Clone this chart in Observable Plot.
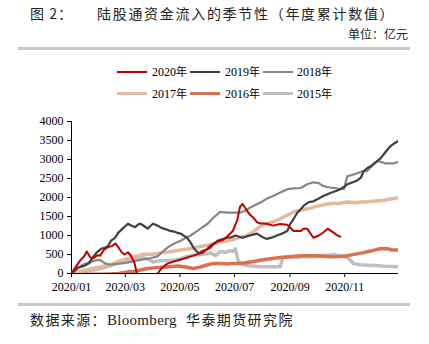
<!DOCTYPE html>
<html><head><meta charset="utf-8">
<script src="https://cdn.jsdelivr.net/npm/d3@7"></script>
<script src="https://cdn.jsdelivr.net/npm/@observablehq/plot@0.6"></script>
<style>
body{margin:0;width:429px;height:344px;position:relative;background:#fff;overflow:hidden;font-family:"Noto Sans CJK SC",sans-serif;color:#000}
.abs{position:absolute;white-space:nowrap}
.rule{position:absolute;left:18px;width:392px;height:3px;background:#c9c9c9}
.lg{position:absolute;font-family:"Liberation Serif",serif;font-size:12px;line-height:12px}
.sw{position:absolute;height:0}
#chart{position:absolute;left:0;top:105px}
</style></head><body>
<div class="abs" style="left:30px;top:3px;font-size:14px;letter-spacing:1px;color:#222">图 2：</div>
<div class="abs" style="left:97px;top:3px;font-size:14px;letter-spacing:1.7px;color:#222">陆股通资金流入的季节性（年度累计数值）</div>
<div class="abs" style="left:348px;top:25px;font-size:12px;color:#222">单位：亿元</div>
<div class="rule" style="top:47px"></div>
<div id="legend"></div>
<div id="chart"></div>
<div class="rule" style="top:303px"></div>
<div class="abs" style="left:30px;top:309px;font-size:14px;letter-spacing:1.4px;color:#222">数据来源：<span style="font-family:'Liberation Serif',serif;font-size:15px;letter-spacing:0.3px">Bloomberg</span>&nbsp; 华泰期货研究院</div>
<script>
const years = ["2020年","2019年","2018年","2017年","2016年","2015年"];
const colors = ["#C00000","#404040","#868686","#E5B8A2","#D9714E","#BFBFBF"];
const widths = [2,2.2,2.2,3.5,3.5,3.5];

const d2020 = ["01-01","01-05","01-11","01-15","01-18","01-22","01-25","01-30","02-02","02-06","02-11","02-15","02-19","02-22","02-26","02-29","03-04","03-07","03-11","03-14","03-18","03-29","04-04","04-06","04-11","04-17","04-26","05-05","05-16","05-27","06-04","06-07","06-13","06-18","06-24","06-29","07-04","07-07","07-10","07-15","07-18","07-22","07-26","07-29","08-06","08-13","08-21","08-29","09-05","09-13","09-16","09-20","09-27","10-03","10-07","10-13","10-20","10-24","10-27"];
const v2020 = [0,150,350,450,580,420,400,480,470,620,700,720,790,700,560,500,560,480,300,0,-300,-400,-100,0,150,260,330,390,470,550,730,780,850,880,1000,1120,1400,1750,1830,1650,1550,1470,1350,1320,1310,1260,1300,1280,1120,1120,1180,1180,940,1000,1060,1180,1070,1000,970];

const d2019 = ["01-01","01-08","01-15","01-20","01-24","01-29","02-03","02-08","02-11","02-14","02-19","02-22","02-28","03-04","03-07","03-12","03-16","03-18","03-22","03-26","03-29","04-01","04-06","04-09","04-13","04-17","04-20","04-25","04-28","05-02","05-05","05-09","05-13","05-17","05-21","05-24","05-27","06-01","06-04","06-07","06-12","06-17","06-23","06-27","07-02","07-07","07-10","07-18","07-26","08-01","08-06","08-12","08-17","08-23","08-29","09-01","09-05","09-09","09-13","09-17","09-22","09-27","10-02","10-08","10-16","10-23","10-27","11-01","11-04","11-10","11-15","11-19","11-22","11-26","11-30","12-05","12-11","12-15","12-19","12-22","12-26","12-29","12-31"];
const v2019 = [0,150,200,260,400,550,650,680,730,860,950,1070,1200,1310,1270,1220,1300,1310,1250,1180,1250,1310,1260,1220,1180,1150,1120,1100,1070,1050,1000,940,810,650,550,560,600,640,680,760,860,900,940,950,1000,960,940,1000,1050,960,910,950,1000,1050,1120,1300,1440,1600,1700,1800,1880,1900,1960,2040,2120,2180,2220,2290,2350,2400,2450,2520,2690,2770,2820,2920,3030,3150,3270,3350,3420,3460,3500];

const d2018 = ["01-01","01-06","01-12","01-17","01-23","01-27","01-31","02-03","02-08","02-13","02-19","02-24","03-01","03-06","03-12","03-18","03-23","03-29","04-01","04-06","04-09","04-15","04-20","04-26","05-02","05-07","05-13","05-18","05-24","06-01","06-07","06-15","06-23","06-29","07-07","07-13","07-18","07-26","08-02","08-07","08-13","08-21","08-29","09-05","09-13","09-20","09-27","10-03","10-08","10-14","10-20","10-25","10-31","11-02","11-04","11-10","11-15","11-21","11-26","12-02","12-08","12-12","12-16","12-22","12-26","12-30"];
const v2018 = [0,100,210,260,300,340,360,340,260,230,250,260,280,300,330,360,380,400,420,450,520,640,730,800,860,930,1000,1080,1180,1310,1460,1620,1600,1600,1600,1650,1730,1820,1910,1980,2040,2130,2220,2240,2250,2350,2400,2380,2300,2270,2250,2230,2220,2400,2560,2600,2640,2690,2700,2850,2970,2930,2900,2900,2900,2930];

const d2017 = ["01-01","01-11","01-22","02-02","02-13","02-24","03-03","03-12","03-21","03-29","04-09","04-20","05-02","05-13","05-24","06-01","06-07","06-15","06-23","06-29","07-07","07-15","07-22","07-29","08-04","08-10","08-15","08-21","08-26","09-01","09-07","09-13","09-18","09-24","09-29","10-05","10-11","10-18","10-27","11-04","11-13","11-19","11-24","12-02","12-13","12-22","12-30"];
const v2017 = [0,60,120,170,230,330,390,450,510,500,540,570,620,660,710,740,780,820,860,890,950,1000,1100,1230,1300,1340,1380,1440,1500,1570,1640,1660,1690,1720,1760,1790,1820,1840,1850,1880,1860,1880,1880,1900,1920,1960,1990];

const d2016 = ["01-01","01-11","01-22","02-02","02-13","02-22","03-01","03-06","03-12","03-18","03-26","04-04","04-09","04-20","04-29","05-07","05-16","05-24","06-01","06-07","06-15","06-23","06-29","07-07","07-15","07-24","08-02","08-10","08-21","09-01","09-09","09-18","09-27","10-05","10-16","10-27","11-04","11-13","11-22","11-30","12-08","12-13","12-19","12-24","12-31"];
const v2016 = [0,-10,-20,-20,-10,0,30,50,60,90,130,150,160,180,200,170,130,170,230,260,260,250,260,260,290,320,360,390,420,440,460,470,470,460,440,450,470,510,550,590,640,660,650,620,620];

const d2015 = ["01-01","01-11","01-22","02-02","02-13","02-24","03-03","03-10","03-16","03-21","03-26","04-01","04-06","04-13","04-20","04-28","05-05","05-13","05-21","05-27","06-04","06-10","06-15","06-21","06-26","06-29","07-02","07-05","07-09","07-15","07-24","08-02","08-12","08-21","08-24","09-01","09-09","09-18","09-27","10-05","10-13","10-20","10-27","11-04","11-11","11-19","11-26","12-05","12-16","12-31"];
const v2015 = [0,40,80,130,200,290,340,390,410,420,380,300,330,340,340,360,420,470,500,500,540,470,580,560,600,580,650,340,250,210,190,180,180,180,420,450,430,450,440,460,480,500,470,420,260,230,220,210,190,180];

const xTicks = ["2020/01","2020/03","2020/05","2020/07","2020/09","2020/11"];
const yTicks = [0,500,1000,1500,2000,2500,3000,3500,4000];

const parse = d3.timeParse("%Y-%m-%d");
const series = [[d2020,v2020],[d2019,v2019],[d2018,v2018],[d2017,v2017],[d2016,v2016],[d2015,v2015]];
const rows = [];
series.forEach(([ds,vs],i)=>ds.forEach((d,j)=>rows.push({year:years[i],date:parse("2020-"+d),value:vs[j]})));
const drawOrder = [5,4,3,2,1,0];
const tickDates = xTicks.map(t=>d3.timeParse("%Y/%m")(t));
const x0 = parse("2020-01-01"), x1 = parse("2020-12-31");

const marks = [
  Plot.ruleY([0],{x1:x0,x2:x1,stroke:"#000",strokeWidth:1}),
  Plot.ruleX([x0],{y1:0,y2:4000,stroke:"#000",strokeWidth:1}),
  Plot.axisY({ticks:yTicks,tickSize:4,tickPadding:4,tickFormat:d=>String(d),label:null,fontSize:12}),
  Plot.axisX({ticks:tickDates,tickSize:4,tickPadding:5,tickFormat:d3.timeFormat("%Y/%m"),label:null,fontSize:12}),
];
drawOrder.forEach(i=>{
  marks.push(Plot.lineY(rows.filter(r=>r.year===years[i]),{x:"date",y:"value",stroke:colors[i],strokeWidth:widths[i],clip:true,strokeLinejoin:"round"}));
});

const chart = Plot.plot({
  width:429,height:190,
  marginTop:16,marginBottom:22,marginLeft:71,marginRight:31,
  style:{fontFamily:"'Liberation Serif',serif",fontSize:"12px",color:"#000",background:"transparent"},
  x:{type:"time",domain:[x0,x1]},
  y:{domain:[0,4000]},
  marks
});
document.getElementById("chart").appendChild(chart);

// legend
const lg = document.getElementById("legend");
const swX = [117,190,263], txX = [152,225,297], rowY = [72,94];
years.forEach((yr,i)=>{
  const c = i%3, r = Math.floor(i/3);
  const sw = document.createElement("div");
  sw.className="sw";
  sw.style.left=swX[c]+"px"; sw.style.width="30px";
  sw.style.top=(rowY[r]-widths[i]/2)+"px";
  sw.style.borderTop=widths[i]+"px solid "+colors[i];
  lg.appendChild(sw);
  const t = document.createElement("div");
  t.className="lg";
  t.style.left=txX[c]+"px"; t.style.top=(rowY[r]-7)+"px";
  t.innerHTML = yr.slice(0,4)+'<span style="font-family:\'Noto Sans CJK SC\';font-size:11px">年</span>';
  lg.appendChild(t);
});
</script>
</body></html>
